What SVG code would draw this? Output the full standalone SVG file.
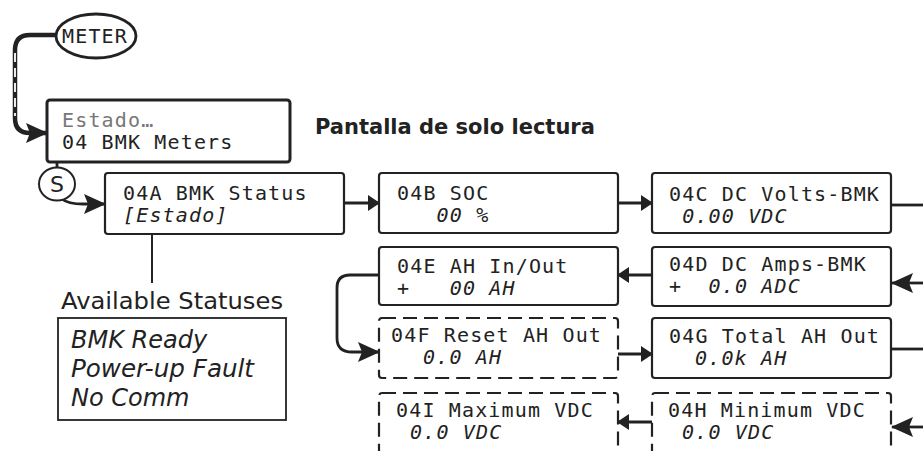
<svg xmlns="http://www.w3.org/2000/svg" width="923" height="451" viewBox="0 0 923 451">
<style>
.box{fill:#fff;stroke:#222;stroke-width:2.2}
.dash{fill:#fff;stroke:#222;stroke-width:2.2;stroke-dasharray:14 7}
.mono{font-family:"DejaVu Sans Mono","Liberation Mono",monospace;font-size:20px;letter-spacing:1.15px;fill:#222}
.it{font-style:italic}
.sans{font-family:"DejaVu Sans","Liberation Sans",sans-serif;fill:#222}
.con{fill:none;stroke:#222;stroke-width:2.8}
</style>
<defs>
<marker id="sm" markerUnits="userSpaceOnUse" viewBox="0 0 12 16" refX="11" refY="8" markerWidth="12" markerHeight="16" orient="auto">
<path d="M0,0 L12,8 L0,16 z" fill="#222"/>
</marker>
<marker id="lg" markerUnits="userSpaceOnUse" viewBox="0 0 22 20" refX="21" refY="10" markerWidth="22" markerHeight="20" orient="auto">
<path d="M0,0 L22,10 L0,20 L4,10 z" fill="#222"/>
</marker>
</defs>
<rect width="923" height="451" fill="#fff"/>

<g id="connectors">
<path d="M56,35 H30 Q15,35 15,50 V118 Q15,133 30,133 H47" fill="none" stroke="#222" stroke-width="4.5" marker-end="url(#lg)"/>
<path d="M15,53 V116" fill="none" stroke="#fff" stroke-width="1.8" stroke-dasharray="9 6"/>
<path class="con" d="M57,162 V168"/>
<path class="con" d="M62,199 Q68,204 83,204 H105" marker-end="url(#lg)"/>
<path class="con" d="M344,203 H379" marker-end="url(#sm)"/>
<path class="con" d="M618,203 H652" marker-end="url(#sm)"/>
<path class="con" d="M891,205 H923"/>
<path class="con" d="M923,283 H892" marker-end="url(#lg)"/>
<path class="con" d="M652,275 H618" marker-end="url(#sm)"/>
<path class="con" d="M379,275 H350 Q337,275 337,288 V338 Q337,352 352,352 H379" marker-end="url(#lg)"/>
<path class="con" d="M618,354 H652" marker-end="url(#sm)"/>
<path class="con" d="M891,349 H923"/>
<path class="con" d="M923,427 H892" marker-end="url(#lg)"/>
<path class="con" d="M652,422 H618" marker-end="url(#sm)"/>
<path d="M152,234 V283" fill="none" stroke="#222" stroke-width="2"/>
</g>

<g id="meter">
<ellipse cx="96" cy="36" rx="40" ry="22" fill="#fff" stroke="#222" stroke-width="2.8"/>
<text class="mono" x="62" y="43">METER</text>
</g>

<g id="estado">
<rect x="47" y="100" width="243" height="62" rx="3" fill="#fff" stroke="#222" stroke-width="3"/>
<text class="mono" x="62" y="127" style="fill:#777">Estado…</text>
<text class="mono" x="62" y="149">04 BMK Meters</text>
</g>

<g id="title">
<text class="sans" x="315" y="134" font-size="21" font-weight="bold">Pantalla de solo lectura</text>
</g>

<g id="s">
<ellipse cx="57" cy="184" rx="18" ry="16.5" fill="#fff" stroke="#222" stroke-width="2"/>
<text class="sans" x="57" y="192" font-size="22" text-anchor="middle">S</text>
</g>

<g id="n04A">
<rect class="box" x="105" y="173" width="239" height="61" rx="3"/>
<text class="mono" x="123" y="200">04A BMK Status</text>
<text class="mono it" x="123" y="222">[Estado]</text>
</g>

<g id="n04B">
<rect class="box" x="379" y="173" width="239" height="60" rx="3"/>
<text class="mono" x="397" y="200">04B SOC</text>
<text class="mono it" x="397" y="222" xml:space="preserve">   00 %</text>
</g>

<g id="n04C">
<rect class="box" x="652" y="173" width="239" height="60" rx="3"/>
<text class="mono" x="669" y="201">04C DC Volts-BMK</text>
<text class="mono it" x="669" y="223" xml:space="preserve"> 0.00 VDC</text>
</g>

<g id="n04D">
<rect class="box" x="652" y="247" width="239" height="59" rx="3"/>
<text class="mono" x="669" y="271">04D DC Amps-BMK</text>
<text class="mono it" x="669" y="293" xml:space="preserve">+  0.0 ADC</text>
</g>

<g id="n04E">
<rect class="box" x="379" y="247" width="239" height="58" rx="3"/>
<text class="mono" x="397" y="273">04E AH In/Out</text>
<text class="mono it" x="397" y="295" xml:space="preserve">+   00 AH</text>
</g>

<g id="n04F">
<rect class="dash" x="379" y="318" width="239" height="60" rx="3"/>
<text class="mono" x="391" y="342">04F Reset AH Out</text>
<text class="mono it" x="423" y="364">0.0 AH</text>
</g>

<g id="n04G">
<rect class="box" x="652" y="318" width="239" height="60" rx="3"/>
<text class="mono" x="669" y="343">04G Total AH Out</text>
<text class="mono it" x="695" y="365">0.0k AH</text>
</g>

<g id="n04H">
<rect class="dash" x="652" y="393" width="239" height="70" rx="3"/>
<text class="mono" x="668" y="417">04H Minimum VDC</text>
<text class="mono it" x="682" y="439">0.0 VDC</text>
</g>

<g id="n04I">
<rect class="dash" x="379" y="393" width="239" height="70" rx="3"/>
<text class="mono" x="396" y="417">04I Maximum VDC</text>
<text class="mono it" x="410" y="439">0.0 VDC</text>
</g>

<g id="statuses">
<text class="sans" x="61" y="309" font-size="23" textLength="222" lengthAdjust="spacingAndGlyphs">Available Statuses</text>
<rect x="58" y="318" width="228" height="102" fill="#fff" stroke="#222" stroke-width="1.8"/>
<text class="sans" x="71" y="348" font-size="24" font-style="italic">BMK Ready</text>
<text class="sans" x="71" y="377" font-size="24" font-style="italic" textLength="183" lengthAdjust="spacingAndGlyphs">Power-up Fault</text>
<text class="sans" x="71" y="406" font-size="24" font-style="italic">No Comm</text>
</g>
</svg>
